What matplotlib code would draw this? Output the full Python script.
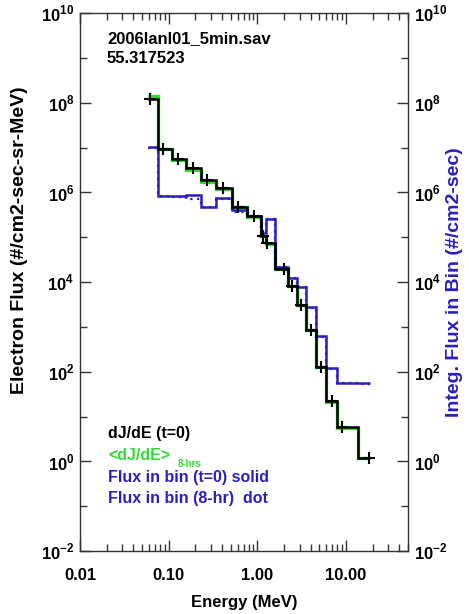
import matplotlib
matplotlib.use("Agg")
import matplotlib.pyplot as plt
from matplotlib.ticker import FixedLocator, FixedFormatter, NullFormatter

plt.rcParams['font.family'] = ['Liberation Sans', 'DejaVu Sans']
plt.rcParams['font.weight'] = 'bold'
plt.rcParams['mathtext.fontset'] = 'custom'
plt.rcParams['mathtext.rm'] = 'Liberation Sans:bold'
plt.rcParams['mathtext.bf'] = 'Liberation Sans:bold'

# Energy bin edges (MeV) and channel energies
bin_edges = [0.058, 0.075, 0.108, 0.155, 0.229, 0.338, 0.512, 0.755, 1.09,
             1.24, 1.60, 2.19, 2.77, 3.50, 4.54, 5.89, 7.83, 13.5, 18.5]
channel_energy = [0.0623, 0.0874, 0.129, 0.186, 0.274, 0.405, 0.598, 0.906,
                  1.17, 1.27, 1.98, 2.43, 3.07, 3.98, 5.17, 6.87, 8.91, 18.0]

# Differential flux dJ/dE at t=0
dj_de_t0 = [1.22e8, 9.3e6, 5.6e6, 3.5e6, 1.9e6, 1.26e6, 4.8e5, 2.9e5, 1.08e5,
            7.5e4, 2.0e4, 8.3e3, 3.1e3, 8.7e2, 1.3e2, 22, 5.7, 1.2]
# 8-hour averaged dJ/dE
dj_de_8hr = [1.42e8, 9.1e6, 5.2e6, 3.2e6, 1.72e6, 1.2e6, 4.6e5, 2.8e5, 1.04e5,
             7.1e4, 1.95e4, 8.1e3, 3.0e3, 8.5e2, 1.28e2, 21, 5.6, 1.2]
# Integrated flux in each bin (t=0) and 8-hour average
bin_flux_t0 = [1.04e7, 8.4e5, 8.4e5, 8.8e5, 4.8e5, 7.6e5, 4.1e5, 3.0e5, 1.26e5,
               2.6e5, 2.2e4, 1.25e4, 7.9e3, 2.7e3, 6.1e2, 1.18e2, 57, 57]
bin_flux_8hr = [9.6e6, 8.2e5, 8.0e5, 7.2e5, 4.6e5, 7.2e5, 3.6e5, 2.9e5, 1.22e5,
                2.5e5, 2.15e4, 1.22e4, 7.7e3, 2.65e3, 6.0e2, 1.16e2, 56, 53]

x_ticks = [0.01, 0.1, 1.0, 10.0]
x_tick_labels = ['0.01', '0.10', '1.00', '10.00']
y_ticks = [1e-2, 1e0, 1e2, 1e4, 1e6, 1e8, 1e10]
y_tick_labels = [r'$10^{-2}$', r'$10^{0}$', r'$10^{2}$', r'$10^{4}$',
                 r'$10^{6}$', r'$10^{8}$', r'$10^{10}$']
y_minor = [1e-1, 1e1, 1e3, 1e5, 1e7, 1e9]

W, H = 469, 614
fig = plt.figure(figsize=(W / 100, H / 100), dpi=100)
ax = fig.add_axes([80 / W, 1 - 551 / H, (408 - 80) / W, (551 - 13) / H])

BLUE = '#2a1fc0'
GREEN = '#33dd33'

ax.stairs(dj_de_8hr, bin_edges, baseline=None, color=GREEN, lw=2.4, zorder=2)
ax.stairs(bin_flux_8hr, bin_edges, baseline=None, color=BLUE, lw=1.6,
          linestyle=(0, (1, 2)), zorder=3)
ax.stairs(bin_flux_t0, bin_edges, baseline=None, color=BLUE, lw=1.8, zorder=3)
ax.stairs(dj_de_t0, bin_edges, baseline=None, color='black', lw=1.8, zorder=4)
ax.plot(channel_energy, dj_de_t0, linestyle='none', marker='+', ms=8, mew=1.5,
        color='black', zorder=5)

ax.set_xscale('log')
ax.set_yscale('log')
ax.set_xlim(0.01, 50)
ax.set_ylim(1e-2, 1e10)

ax.xaxis.set_major_locator(FixedLocator(x_ticks))
ax.xaxis.set_major_formatter(FixedFormatter(x_tick_labels))
ax.yaxis.set_major_locator(FixedLocator(y_ticks))
ax.yaxis.set_major_formatter(FixedFormatter(y_tick_labels))
ax.yaxis.set_minor_locator(FixedLocator(y_minor))
ax.yaxis.set_minor_formatter(NullFormatter())

ax.tick_params(which='both', direction='in', top=True, right=True,
               labelright=True, width=1.0, color='#333333')
ax.tick_params(which='major', length=8)
ax.tick_params(which='minor', length=5)
ax.tick_params(axis='x', labelsize=12, pad=12)
ax.tick_params(axis='y', labelsize=12, pad=4)
for lab in ax.get_xticklabels() + ax.get_yticklabels():
    lab.set_fontweight('bold')
for sp in ax.spines.values():
    sp.set_linewidth(1.0)
    sp.set_color('#333333')

def px(x, y):
    return x / W, 1 - y / H

fig.text(*px(244, 602), 'Energy (MeV)', ha='center', va='center',
         fontsize=12, fontweight='bold')
fig.text(*px(20, 240), 'Electron Flux (#/cm2-sec-sr-MeV)', ha='center',
         va='center', rotation=90, fontsize=14, fontweight='bold')
fig.text(*px(454, 282), 'Integ. Flux in Bin (#/cm2-sec)', ha='center',
         va='center', rotation=90, fontsize=14, fontweight='bold', color=BLUE)

fig.text(*px(107, 43), '2006lanl01_5min.sav', fontsize=12, fontweight='bold',
         va='baseline')
fig.text(*px(107, 63), '55.317523', fontsize=12, fontweight='bold',
         va='baseline')

fig.text(*px(108, 438), 'dJ/dE (t=0)', fontsize=11.5, fontweight='bold',
         va='baseline')
fig.text(*px(108, 460), '<dJ/dE>', fontsize=11.5, fontweight='bold',
         va='baseline', color=GREEN)
fig.text(*px(178, 467), '8-hrs', fontsize=7, fontweight='bold',
         va='baseline', color=GREEN)
fig.text(*px(108, 482), 'Flux in bin (t=0) solid', fontsize=11.5,
         fontweight='bold', va='baseline', color=BLUE)
fig.text(*px(108, 503), 'Flux in bin (8-hr)  dot', fontsize=11.5,
         fontweight='bold', va='baseline', color=BLUE)

fig.savefig('out.png', dpi=100)
